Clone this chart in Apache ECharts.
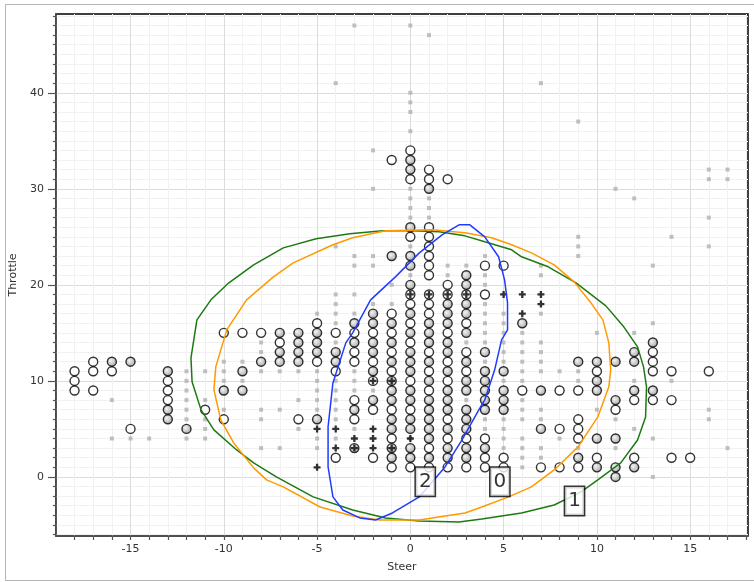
<!DOCTYPE html>
<html><head><meta charset="utf-8">
<script src="https://cdn.jsdelivr.net/npm/echarts@6/dist/echarts.min.js"></script>
<style>html,body{margin:0;padding:0;background:#fff}#c{width:754px;height:582px}</style>
</head><body><div id="c"></div>
<script>
// ---- tick labels ----
const xTicks = [-15, -10, -5, 0, 5, 10, 15];
const yTicks = [0, 10, 20, 30, 40];

// ---- white circles: [steer, [throttle values]] ----
const whiteCircleCols = [
  [-18, [11, 10, 9]], [-17, [12, 11, 9]], [-16, [11]], [-15, [5]], [-13, [10, 9, 8]],
  [-11, [7]], [-10, [15, 6]], [-9, [15]], [-8, [15]], [-7, [14]], [-6, [6]],
  [-5, [16, 12]], [-4, [15, 11, 2]], [-3, [15, 13, 12, 8, 6]], [-2, [15, 12, 10, 7, 2]],
  [-1, [33, 17, 15, 13, 11, 7, 4, 1]],
  [0, [34, 31, 25, 19, 18, 16, 14, 10, 7, 1]],
  [1, [32, 31, 26, 25, 24, 23, 22, 21, 19, 18, 17, 13, 11, 9, 3, 1]],
  [2, [31, 20, 19, 15, 12, 10, 6, 4, 1]],
  [3, [19, 16, 13, 11, 4, 1]], [4, [22, 19, 4, 2, 1]], [5, [22, 2, 1]], [6, [9]],
  [7, [1]], [8, [9, 5, 1]], [9, [9, 6, 5, 4, 1]], [10, [11, 2]], [11, [7]],
  [12, [8, 2]], [13, [13, 12, 11, 8]], [14, [11, 8, 2]], [15, [2]], [16, [11]]
];
// ---- gray filled circles ----
const grayCircleCols = [
  [-16, [12]], [-15, [12]], [-13, [11, 7, 6]], [-12, [5]], [-10, [9]], [-9, [11, 9]],
  [-8, [12]], [-7, [15, 13, 12]], [-6, [15, 14, 13, 12]], [-5, [15, 14, 13, 6]],
  [-4, [13, 12]], [-3, [16, 14, 7, 3]], [-2, [17, 16, 14, 13, 11, 8]],
  [-1, [23, 16, 14, 12, 10, 9, 8, 6, 5, 3, 2]],
  [0, [33, 32, 26, 23, 22, 20, 17, 15, 13, 12, 11, 9, 8, 6, 5, 3, 2]],
  [1, [30, 16, 15, 14, 12, 10, 8, 7, 6, 5, 4, 2]],
  [2, [18, 17, 16, 14, 13, 11, 9, 8, 7, 5, 3, 2]],
  [3, [21, 20, 18, 17, 15, 12, 10, 9, 7, 6, 5, 3, 2]],
  [4, [13, 11, 10, 9, 8, 7, 3]], [5, [11, 9, 8, 7]], [6, [16]], [7, [9, 5]],
  [9, [12, 2]], [10, [12, 10, 9, 4, 1]], [11, [12, 8, 4, 1, 0]], [12, [13, 12, 9, 1]],
  [13, [14, 9]]
];
// ---- plus markers ----
const plusPoints = [
  [-5, 5], [-5, 1], [-4, 5], [-4, 3], [-3, 4], [-3, 3], [-2, 10], [-2, 5], [-2, 4], [-2, 3],
  [-1, 10], [-1, 3], [0, 19], [0, 4], [1, 19], [2, 19], [3, 19], [5, 19], [6, 19], [6, 17],
  [7, 19], [7, 18]
];
// ---- small gray squares ----
const squareCols = [
  [-16, [8, 4]], [-15, [4]], [-14, [4]], [-12, [11, 10, 9, 8, 7, 6, 4]],
  [-11, [11, 8, 6, 5, 4]], [-10, [12, 11, 10, 7]], [-9, [12, 10]],
  [-8, [14, 13, 11, 7, 6, 3]], [-7, [11, 7, 3]], [-6, [11, 8, 5]],
  [-5, [17, 11, 10, 9, 8, 7, 4, 3]], [-4, [41, 24, 19, 18, 17, 16, 14, 10, 9, 8, 7, 6, 4]],
  [-3, [47, 23, 22, 19, 17, 11, 10, 9, 5]], [-2, [34, 30, 23, 22, 18, 9]], [-1, [20, 18]],
  [0, [47, 40, 39, 38, 36, 30, 29, 28, 27, 24, 21, 4]], [1, [46, 29, 28, 27]], [2, [22, 21]],
  [3, [22, 14, 8]], [4, [23, 21, 20, 18, 17, 16, 15, 14, 12, 6, 5]],
  [5, [17, 16, 15, 14, 13, 12, 10, 6, 5, 4, 3]],
  [6, [15, 14, 13, 12, 11, 10, 8, 7, 6, 4, 3, 2, 1]],
  [7, [41, 22, 21, 17, 14, 13, 12, 11, 7, 6, 3, 2]], [8, [11, 4]],
  [9, [37, 25, 24, 23, 11, 10, 3]], [10, [15, 7]], [11, [30, 6, 3]],
  [12, [29, 15, 10, 5]], [13, [22, 16, 4, 0]], [14, [25, 10]],
  [16, [32, 31, 27, 24, 7, 6]], [17, [32, 31, 3]]
];
// ---- cluster ellipses (vertices) ----
const ellipseGreen = [
  [-1.49, 25.63], [0.11, 25.63], [1.54, 25.52], [2.93, 25.10], [3.99, 24.48], [5.43, 23.65],
  [5.96, 22.92], [7.39, 21.88], [8.88, 20.21], [10.48, 17.81], [11.44, 15.63], [12.18, 13.54],
  [12.50, 11.46], [12.66, 9.38], [12.61, 6.25], [12.18, 3.85], [11.28, 1.46], [10.05, -0.31],
  [9.15, -1.56], [7.71, -2.92], [5.96, -3.75], [3.83, -4.38], [2.61, -4.69], [0.48, -4.58],
  [-1.33, -4.27], [-3.09, -3.44], [-5.21, -2.08], [-7.18, 0.0], [-8.40, 1.46],
  [-9.31, 2.81], [-10.53, 4.90], [-11.22, 6.98], [-11.70, 9.90], [-11.76, 12.40], [-11.44, 16.35],
  [-10.69, 18.44], [-9.73, 20.21], [-8.40, 22.08], [-6.81, 23.85], [-5.05, 24.79], [-3.24, 25.31],
  [-1.49, 25.63]
];
const ellipseOrange = [
  [-1.33, 25.63], [1.17, 25.73], [2.93, 25.42], [4.36, 24.90], [5.43, 24.17], [6.49, 23.33],
  [7.71, 22.08], [8.78, 20.31], [9.68, 18.13], [10.32, 16.35], [10.64, 13.96], [10.74, 11.15],
  [10.64, 9.38], [10.05, 6.25], [8.99, 3.13], [7.71, 0.73], [6.49, -1.04], [5.27, -2.08],
  [3.83, -3.13], [2.93, -3.75], [0.48, -4.48], [-1.65, -4.48], [-3.09, -4.06], [-4.84, -3.13],
  [-6.81, -1.04], [-7.71, -0.31], [-8.40, 0.94], [-9.47, 3.54], [-10.16, 5.94], [-10.53, 9.06],
  [-10.43, 11.46], [-9.84, 15.31], [-8.78, 18.44], [-7.34, 20.83], [-6.28, 22.29], [-4.15, 24.17],
  [-3.09, 24.90], [-1.33, 25.63]
];
const ellipseBlue = [
  [-2.13, 18.44], [-0.80, 20.83], [0.48, 23.33], [1.70, 25.21], [2.61, 26.25], [3.19, 26.25],
  [3.99, 25.00], [4.73, 22.92], [5.05, 20.52], [5.21, 18.13], [5.21, 15.31], [4.89, 14.27],
  [4.52, 11.15], [3.99, 8.02], [3.67, 6.98], [2.77, 3.85], [1.86, 1.04], [0.48, -2.08],
  [-0.96, -3.75], [-1.86, -4.48], [-2.71, -4.27], [-3.62, -3.44], [-4.15, -2.08], [-4.41, 1.04],
  [-4.41, 5.21], [-4.15, 9.79], [-3.46, 13.96], [-3.09, 15.0], [-2.13, 18.44]
];
// ---- cluster labels ----
const clusterNames = ['2', '0', '1'];
const clusterPos = [[0.8, -0.5], [4.8, -0.5], [8.8, -2.5]];

function expand(cols) {
  const out = [];
  cols.forEach(([x, ys]) => ys.forEach(y => out.push([x, y])));
  return out;
}

const chart = echarts.init(document.getElementById('c'), null, {renderer: 'canvas'});
const grayFill = new echarts.graphic.RadialGradient(0.4, 0.4, 0.65, [
  {offset: 0, color: '#f2f2f2'}, {offset: 1, color: '#8c8c8c'}
]);
const plusPath = 'path://M2,0H4V2H6V4H4V6H2V4H0V2H2Z';
const font = 'DejaVu Sans';

chart.setOption({
  animation: false,
  backgroundColor: '#fff',
  textStyle: {fontFamily: font},
  graphic: [{
    type: 'rect', shape: {x: 5.5, y: 4.5, width: 760, height: 576},
    style: {fill: null, stroke: '#b5b5b5', lineWidth: 1}, z: 0
  }],
  grid: {left: 50, right: 6, top: 14, bottom: 46, show: true, borderColor: '#000', borderWidth: 1.5, backgroundColor: 'transparent'},
  xAxis: {
    type: 'value', min: -19, max: 18.1, minInterval: 5, maxInterval: 5, splitNumber: 7,
    name: 'Steer', nameLocation: 'middle', nameGap: 26,
    nameTextStyle: {color: '#333', fontSize: 11, fontFamily: font},
    axisLine: {onZero: false, lineStyle: {color: '#555', width: 1.5}},
    axisTick: {length: 4, customValues: xTicks, lineStyle: {color: '#555', width: 1.2}},
    minorTick: {show: true, splitNumber: 5, length: 4, lineStyle: {color: '#555', width: 1.2}},
    axisLabel: {customValues: xTicks, color: '#333', fontSize: 11, margin: 8, fontFamily: font},
    splitLine: {show: true, lineStyle: {color: '#dcdcdc', width: 1}},
    minorSplitLine: {show: true, lineStyle: {color: '#f1f1f1', width: 1}}
  },
  yAxis: {
    type: 'value', min: -6.15, max: 48.2, minInterval: 10, maxInterval: 10, splitNumber: 5,
    name: 'Throttle', nameLocation: 'middle', nameGap: 30, nameRotate: 90,
    nameTextStyle: {color: '#333', fontSize: 11, fontFamily: font},
    axisLine: {onZero: false, lineStyle: {color: '#555', width: 1.5}},
    axisTick: {length: 8, customValues: yTicks, lineStyle: {color: '#555', width: 1.2}},
    minorTick: {show: true, splitNumber: 10, length: 3, lineStyle: {color: '#555', width: 1.2}},
    axisLabel: {customValues: yTicks, color: '#333', fontSize: 11, margin: 12, fontFamily: font},
    splitLine: {show: true, lineStyle: {color: '#dcdcdc', width: 1}},
    minorSplitLine: {show: true, lineStyle: {color: '#f1f1f1', width: 1}}
  },
  series: [
    {type: 'scatter', data: expand(squareCols), symbol: 'rect', symbolSize: 4,
     itemStyle: {color: '#b0b0b0'}, z: 2, silent: true},
    {type: 'scatter', data: expand(whiteCircleCols), symbol: 'circle', symbolSize: 9,
     itemStyle: {color: '#fff', borderColor: '#000', borderWidth: 1.4}, z: 3},
    {type: 'scatter', data: expand(grayCircleCols), symbol: 'circle', symbolSize: 9,
     itemStyle: {color: grayFill, borderColor: '#000', borderWidth: 1.4}, z: 3},
    {type: 'scatter', data: plusPoints, symbol: plusPath, symbolSize: 7,
     itemStyle: {color: '#000'}, z: 4},
    {type: 'line', data: ellipseGreen, showSymbol: false, symbol: 'none', smooth: false,
     lineStyle: {color: '#1d7a12', width: 1.5}, z: 5},
    {type: 'line', data: ellipseOrange, showSymbol: false, symbol: 'none', smooth: false,
     lineStyle: {color: '#ff9a00', width: 1.5}, z: 5},
    {type: 'line', data: ellipseBlue, showSymbol: false, symbol: 'none', smooth: false,
     lineStyle: {color: '#1f3cff', width: 1.5}, z: 5},
    {type: 'scatter', data: clusterPos.map((p, i) => [p[0], p[1], clusterNames[i]]),
     symbolSize: 1, itemStyle: {color: 'transparent'}, z: 10,
     label: {show: true, position: 'inside', formatter: p => p.data[2], fontSize: 20,
       fontFamily: font, color: '#000', backgroundColor: '#fff', borderColor: '#000',
       borderWidth: 1.5, padding: [5, 3, 3, 3]}}
  ]
});
</script></body></html>
